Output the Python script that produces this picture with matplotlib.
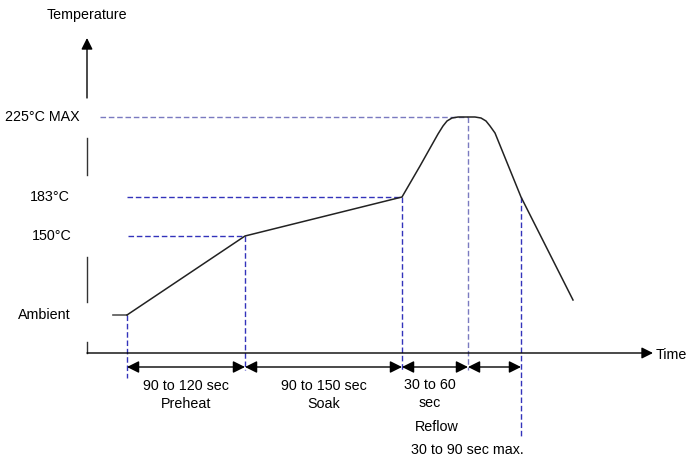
import matplotlib
matplotlib.use("Agg")
import matplotlib.pyplot as plt

plt.rcParams['font.family'] = ['Liberation Sans', 'DejaVu Sans']

# schematic profile, in drawing units (x grows right, y grows down)
profile_x = [127, 245, 402, 420, 438, 443, 447, 452, 458, 475, 481, 486, 490, 495, 508, 521, 573]
profile_y = [315, 236, 197, 166, 134, 126, 121, 118, 117, 117, 118, 121, 126, 133, 165, 197, 300]

level_names = ["225°C MAX", "183°C", "150°C", "Ambient"]
level_y = [117, 197, 236, 315]
level_label_x = [5, 30, 32, 18]

# phase boundaries on the time axis
bounds_x = [127, 245, 402, 468, 521]
phase_text = ["90 to 120 sec\nPreheat", "90 to 150 sec\nSoak"]

fig = plt.figure(figsize=(6.93, 4.61), dpi=100)
ax = fig.add_axes([0, 0, 1, 1])
ax.set_xlim(0, 693)
ax.set_ylim(461, 0)
ax.axis('off')

fs = 10.3
dark = '#3333bb'
light = '#7a7ac0'

# axes, y axis broken around labels
ax.annotate('', xy=(87, 38), xytext=(87, 98),
            arrowprops=dict(arrowstyle='-|>', color='black', lw=1, mutation_scale=17,
                            shrinkA=0, shrinkB=0))
for y0, y1 in [(138, 175), (257, 302), (342, 353)]:
    ax.plot([87, 87], [y0, y1], color='#333333', lw=1)
ax.annotate('', xy=(653, 353), xytext=(87, 353),
            arrowprops=dict(arrowstyle='-|>', color='black', lw=1, mutation_scale=17,
                            shrinkA=0, shrinkB=0))

# dashed guide lines
ax.plot([100, 468], [117, 117], ls=(0, (4, 2)), color=light, lw=1)
ax.plot([468, 468], [117, 370], ls=(0, (4, 2)), color=light, lw=1)
ax.plot([127, 402], [197, 197], ls=(0, (4, 2)), color=dark, lw=1)
ax.plot([402, 402], [197, 370], ls=(0, (4, 2)), color=dark, lw=1)
ax.plot([128, 245], [236, 236], ls=(0, (4, 2)), color=dark, lw=1)
ax.plot([245, 245], [236, 370], ls=(0, (4, 2)), color=dark, lw=1)
ax.plot([127, 127], [315, 378], ls=(0, (4, 2)), color=dark, lw=1)
ax.plot([521, 521], [197, 437], ls=(0, (4, 2)), color=dark, lw=1)

# profile curve
ax.plot([113, 127], [315, 315], color='#555555', lw=1.2)
ax.plot(profile_x, profile_y, color='#222222', lw=1.1, solid_joinstyle='round')

# level labels
for name, y, x in zip(level_names, level_y, level_label_x):
    ax.text(x, y, name, fontsize=fs, va='center', ha='left')

ax.text(87, 15, "Temperature", fontsize=fs, ha='center', va='center')
ax.text(656, 355, "Time", fontsize=fs, ha='left', va='center')

# duration arrows
for a, b in zip(bounds_x[:-1], bounds_x[1:]):
    ax.annotate('', xy=(a, 367), xytext=(b, 367),
                arrowprops=dict(arrowstyle='<|-|>', color='black', lw=1,
                                mutation_scale=18, shrinkA=0, shrinkB=0))

for (a, b), t in zip(zip(bounds_x[:2], bounds_x[1:3]), phase_text):
    ax.text((a + b) / 2, 395, t, fontsize=fs, ha='center', va='center', linespacing=1.45)

ax.text(430, 394, "30 to 60\nsec", fontsize=fs, ha='center', va='center', linespacing=1.45)
ax.text(437, 427, "Reflow", fontsize=fs, ha='center', va='center')
ax.text(467, 450, "30 to 90 sec max.", fontsize=fs, ha='center', va='center')

fig.savefig('out.png', dpi=100)
